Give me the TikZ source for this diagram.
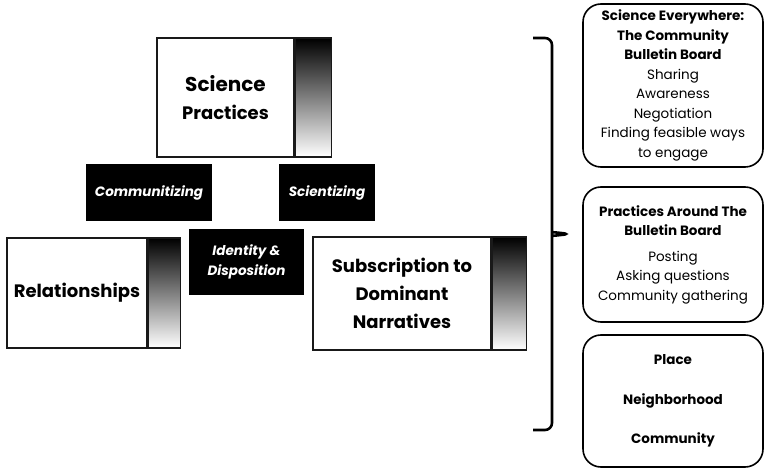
\documentclass[tikz,border=0pt]{standalone}
\usepackage{fontspec}
\setmainfont{Poppins}
\usetikzlibrary{positioning}

\tikzset{
  concept/.style={draw=black!90,line width=1.6pt,fill=white,align=center,inner sep=0pt,
    font=\bfseries\fontsize{18}{28}\selectfont},
  fade/.style={draw=black!90,line width=1.6pt,top color=black,bottom color=white,inner sep=0pt},
  tag/.style={fill=black,text=white,align=center,inner sep=0pt,
    font=\bfseries\itshape\fontsize{13.5}{20}\selectfont},
  theme/.style={draw=black,line width=1.6pt,rounded corners=18pt,align=center,inner sep=0pt,
    minimum width=180pt,font=\fontsize{13.5}{19.5}\selectfont}
}

\begin{document}
\begin{tikzpicture}[x=1pt,y=-1pt]
  \useasboundingbox (0,0) rectangle (764,470);

  % concepts with their shaded strips
  \node[concept,minimum width=137pt,minimum height=119pt] (sp) at (225.5,97.5) {\fontsize{20}{30}\selectfont Science\\Practices};
  \node[fade,minimum width=36pt,minimum height=119pt,right=0pt of sp] (spf) {};

  \node[concept,minimum width=140pt,minimum height=110pt] (rel) at (77,293) {Relationships};
  \node[fade,minimum width=32pt,minimum height=110pt,right=0pt of rel] (relf) {};

  \node[concept,minimum width=178pt,minimum height=113pt] (sdn) at (402,293.5) {Subscription to\\Dominant\\Narratives};
  \node[fade,minimum width=34pt,minimum height=113pt,right=0pt of sdn] (sdnf) {};

  % black tags
  \node[tag,minimum width=126pt,minimum height=57pt] (com) at (149,192.5) {Communitizing};
  \node[tag,minimum width=96pt,minimum height=57pt] (sci) at (327,192.5) {Scientizing};
  \node[tag,minimum width=115pt,minimum height=66pt] (idd) at (246.5,262) {Identity \&\\Disposition};

  % brace
  \coordinate (bt) at (533,38);
  \coordinate (bb) at (533,430);
  \coordinate (tip) at (570,234);
  \draw[line width=2.6pt,rounded corners=7pt] (bt) -- (552,38) -- (552,226)
    .. controls (552,232) .. (tip) .. controls (552,236) .. (552,242) -- (552,430) -- (bb);

  % themes
  \node[theme,minimum height=163pt] (sew) at (673,85.5)
    {\textbf{Science Everywhere:}\\\textbf{The Community}\\\textbf{Bulletin Board}\\Sharing\\Awareness\\Negotiation\\Finding feasible ways\\to engage};
  \node[theme,minimum height=135pt] (pab) at (673,254.5)
    {\textbf{Practices Around The}\\\textbf{Bulletin Board}\\[6pt]Posting\\Asking questions\\Community gathering};
  \node[theme,minimum height=132pt] (pl) at (673,401)
    {\textbf{Place}\\[20pt]\textbf{Neighborhood}\\[20pt]\textbf{Community}};
\end{tikzpicture}
\end{document}
